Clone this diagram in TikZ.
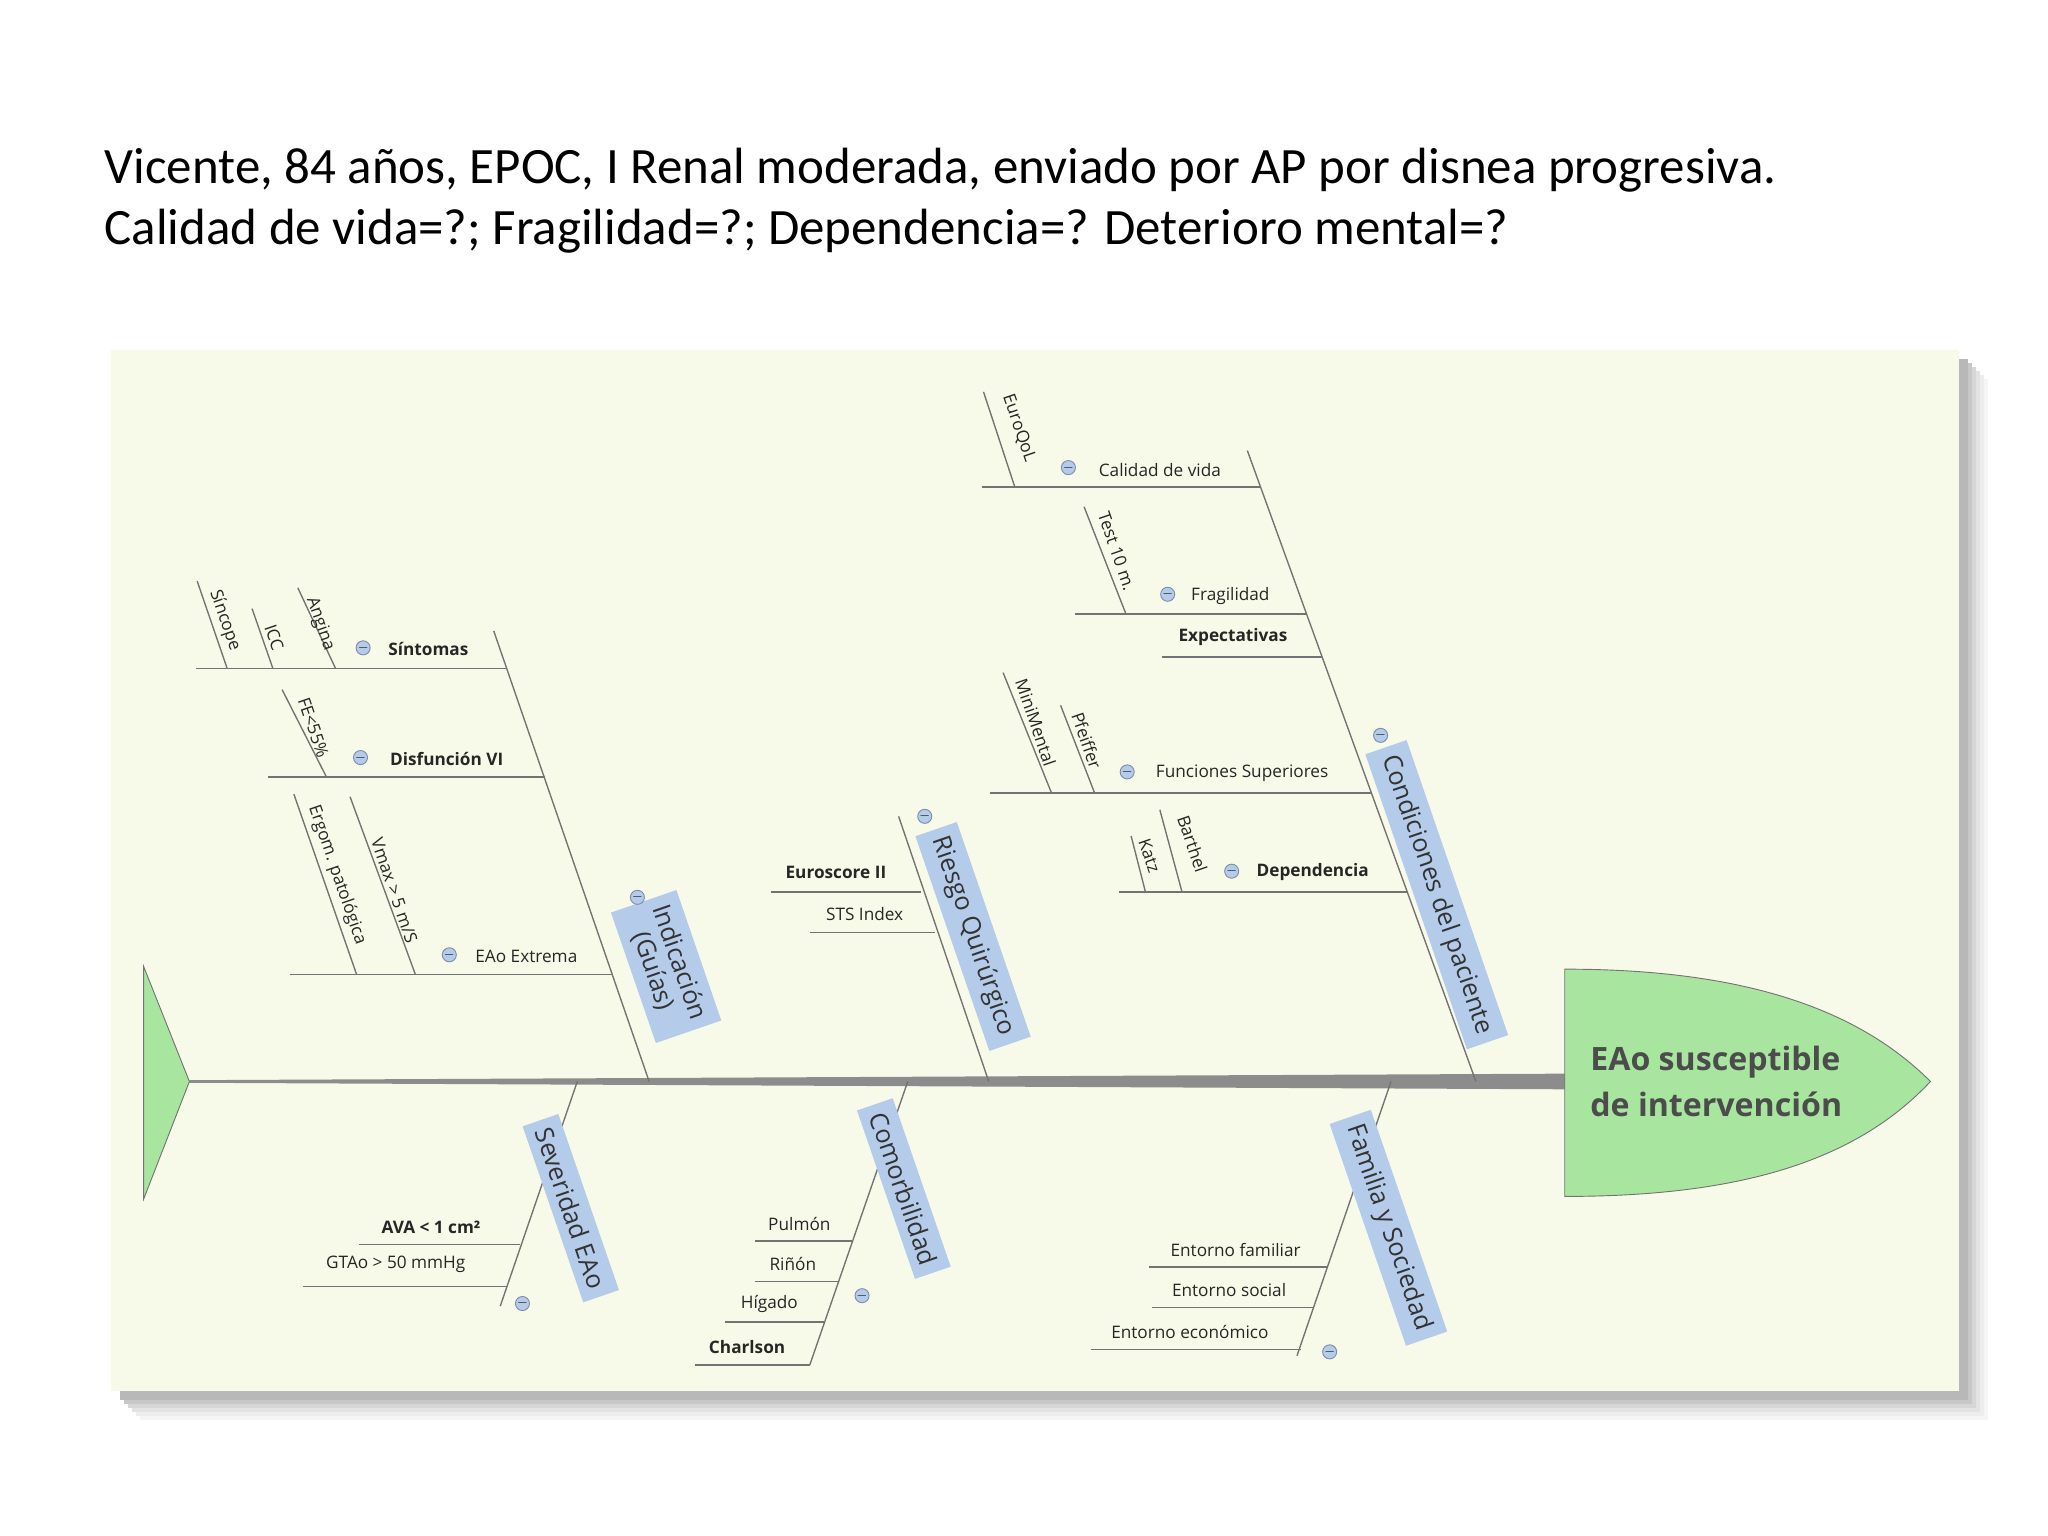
\documentclass[tikz,border=0pt]{standalone}
\usepackage{fontspec}
\setmainfont{Open Sans}
\newfontfamily\titlefont{Carlito}
\begin{document}
\begin{tikzpicture}[x=0.02cm,y=-0.02cm,
  bone/.style={draw=black!55,line width=0.6pt},
  lbl/.style={font=\fontsize{7.5}{9}\selectfont,text=black!85,inner sep=1pt},
  blbl/.style={lbl,font=\fontsize{7.5}{9}\selectfont\bfseries},
  rlbl/.style={lbl,rotate=-71,anchor=center},
  catbox/.style={rotate=-71,align=center,
     font=\fontsize{11}{12}\selectfont,text=black!80,inner sep=4pt,fill=catfill},
  minus/.style={circle,draw=catfill!70!black,fill=catfill,minimum size=9pt,inner sep=0pt,scale=0.6}]
\definecolor{catfill}{HTML}{B4CBEA}
\definecolor{panel}{HTML}{F8FAE9}
\definecolor{headg}{HTML}{A8E6A0}
\useasboundingbox (0,0) rectangle (1568,1176);
% title
\node[anchor=west,font=\titlefont\fontsize{22.2}{26}\selectfont] (t1) at (74,130) {Vicente, 84 años, EPOC, I Renal moderada, enviado por AP por disnea progresiva.};
\node[anchor=west,font=\titlefont\fontsize{22.2}{26}\selectfont] (t2) at (74,177) {Calidad de vida=?; Fragilidad=?; Dependencia=? Deterioro mental=?};
% shadow and panel
\foreach \o/\c in {18/4,15/7,12/11,9/16,6/22,3/28}
  \fill[black!\c] (85+\o+4,268+\o+4) rectangle (1500+\o+4,1065+\o+4);
\fill[panel] (85,268) rectangle (1500,1065);
% spine
\fill[black!45] (145,827) -- (1200,822) -- (1200,834) -- (145,829) -- cycle;
\draw[black!55,fill=headg] (110,740) -- (145,828) -- (110,918) -- cycle;
\draw[black!55,fill=headg] (1198,742) .. controls (1330,742) and (1420,770) .. (1478,828)
   .. controls (1420,890) and (1330,916) .. (1198,916) -- cycle;
\node[font=\fontsize{14}{20}\selectfont\bfseries,text=black!70,align=left] (head) at (1314,828) {EAo susceptible\\de intervención};
% main bones
\coordinate (i0) at (497,828); \coordinate (i1) at (378,483);
\coordinate (r0) at (757,828); \coordinate (r1) at (688,625);
\coordinate (c0) at (1130,828); \coordinate (c1) at (955,345);
\coordinate (s0) at (442,828); \coordinate (s1) at (383,1000);
\coordinate (m0) at (695,828); \coordinate (m1) at (620,1045);
\coordinate (f0) at (1065,828); \coordinate (f1) at (993,1038);
\foreach \a/\b in {i0/i1,r0/r1,c0/c1,s0/s1,m0/m1,f0/f1} \draw[bone] (\a)--(\b);
\node[catbox] (ind) at (510,740) {Indicación\\(Guías)};
\node[catbox] (rq) at (745,717) {Riesgo Quirúrgico};
\node[catbox] (cp) at (1100,685) {Condiciones del paciente};
\node[catbox] (sev) at (437,925) {Severidad EAo};
\node[catbox] (com) at (692,910) {Comorbilidad};
\node[catbox] (fam) at (1063,940) {Familia y Sociedad};
\foreach \p in {(488,687),(708,625),(1057,563),(400,998),(660,992),(1018,1035)}
  \node[minus] at \p {$-$};
% Indicación sub-bones
\draw[bone] (150,512) -- (388,512); \draw[bone] (205,595) -- (417,595); \draw[bone] (222,746) -- (469,746);
\node[blbl] (sint) at (328,497) {Síntomas}; \node[minus] at (278,496) {$-$};
\node[blbl] (dvi) at (342,581) {Disfunción VI}; \node[minus] at (276,580) {$-$};
\node[lbl] (eae) at (403,732) {EAo Extrema}; \node[minus] at (344,731) {$-$};
\draw[bone] (174,512) -- (151,445); \node[rlbl] at (172,475) {Síncope};
\draw[bone] (209,512) -- (193,466); \node[rlbl] at (210,488) {ICC};
\draw[bone] (257,512) -- (228,450); \node[rlbl] at (245,478) {Angina};
\draw[bone] (250,595) -- (216,528); \node[rlbl] at (240,557) {FE<55\%};
\draw[bone] (273,746) -- (225,608); \node[rlbl] at (258,670) {Ergom. patológica};
\draw[bone] (318,746) -- (268,610); \node[rlbl] at (302,682) {Vmax > 5 m/S};
% Riesgo
\draw[bone] (590,683) -- (705,683); \draw[bone] (620,714) -- (716,714);
\node[blbl] (es) at (640,668) {Euroscore II};
\node[lbl] (sts) at (662,700) {STS Index};
% Condiciones
\draw[bone] (752,373) -- (965,373); \draw[bone] (823,470) -- (1000,470); \draw[bone] (890,503) -- (1012,503);
\draw[bone] (758,607) -- (1050,607); \draw[bone] (857,683) -- (1078,683);
\node[lbl] (cv) at (888,360) {Calidad de vida}; \node[minus] at (818,358) {$-$};
\node[lbl] (fr) at (942,456) {Fragilidad}; \node[minus] at (894,455) {$-$};
\node[blbl] (ex) at (944,488) {Expectativas};
\node[lbl] (fs) at (951,592) {Funciones Superiores}; \node[minus] at (863,591) {$-$};
\node[blbl] (dep) at (1005,668) {Dependencia}; \node[minus] at (943,667) {$-$};
\draw[bone] (777,373) -- (753,300); \node[rlbl] at (780,328) {EuroQoL};
\draw[bone] (862,470) -- (830,388); \node[rlbl] at (855,422) {Test 10 m.};
\draw[bone] (805,607) -- (768,515); \node[rlbl] at (793,553) {MiniMental};
\draw[bone] (838,607) -- (812,540); \node[rlbl] at (832,567) {Pfeiffer};
\draw[bone] (877,683) -- (866,640); \node[rlbl] at (880,655) {Katz};
\draw[bone] (905,683) -- (888,620); \node[rlbl] at (913,646) {Barthel};
% Severidad
\draw[bone] (275,953) -- (398,953); \draw[bone] (232,985) -- (388,985);
\node[blbl] (ava) at (330,940) {AVA < 1 cm²};
\node[lbl] (gt) at (303,968) {GTAo > 50 mmHg};
% Comorbilidad
\draw[bone] (578,950) -- (653,950); \draw[bone] (578,981) -- (642,981);
\draw[bone] (555,1012) -- (631,1012); \draw[bone] (532,1045) -- (620,1045);
\node[lbl] (pu) at (612,937) {Pulmón};
\node[lbl] (ri) at (607,968) {Riñón};
\node[lbl] (hi) at (589,998) {Hígado};
\node[blbl] (ch) at (572,1031) {Charlson};
% Familia
\draw[bone] (880,970) -- (1016,970); \draw[bone] (882,1001) -- (1006,1001); \draw[bone] (835,1033) -- (996,1033);
\node[lbl] (ef) at (946,957) {Entorno familiar};
\node[lbl] (eso) at (941,988) {Entorno social};
\node[lbl] (ee) at (911,1020) {Entorno económico};
\end{tikzpicture}
\end{document}
